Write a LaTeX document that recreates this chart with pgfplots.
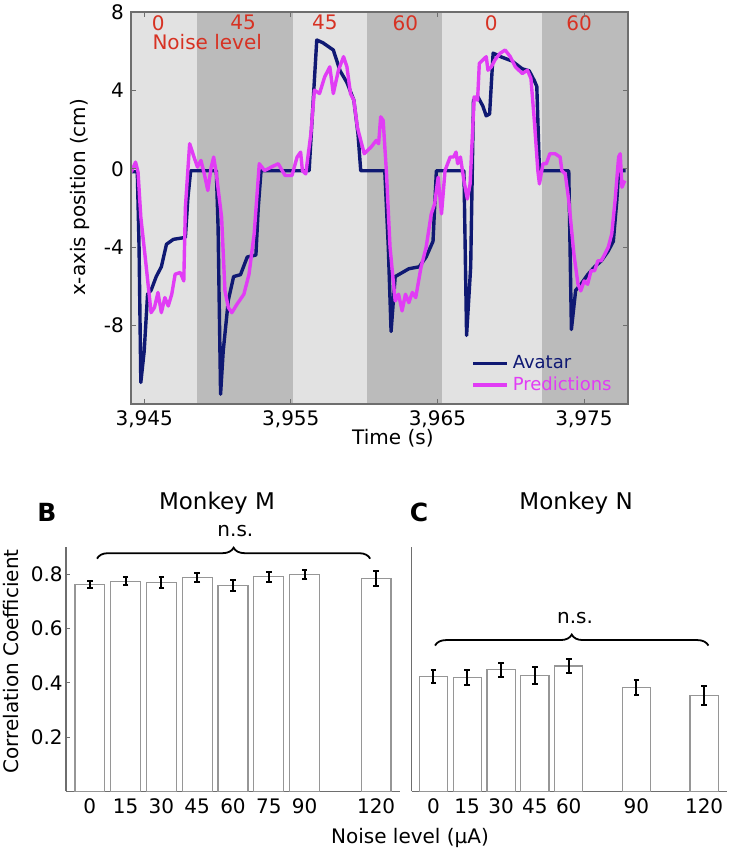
\documentclass[border=0pt]{standalone}
\usepackage{fontspec}
\setmainfont{DejaVu Sans}
\usepackage{pgfplots}
\pgfplotsset{compat=1.18}
\usetikzlibrary{decorations.pathreplacing}
\definecolor{bglight}{RGB}{226,226,226}
\definecolor{bgdark}{RGB}{187,187,187}
\definecolor{avatar}{RGB}{15,25,115}
\definecolor{pred}{RGB}{225,60,245}
\definecolor{noisered}{RGB}{215,50,35}
\definecolor{baredge}{RGB}{150,150,150}
\definecolor{axgray}{RGB}{110,110,110}
\newcommand{\fs}[1]{\fontsize{#1}{#1}\selectfont}
\begin{document}
\begin{tikzpicture}
\useasboundingbox (0,0) rectangle (365pt,426.5pt);
% ---------------- Panel A ----------------
\begin{axis}[
  at={(65.5pt,224.5pt)}, anchor=south west,
  scale only axis, width=248.5pt, height=196pt,
  xmin=3944.1, xmax=3978, ymin=-12, ymax=8,
  xtick={3945,3955,3965,3975},
  xticklabels={3{,}945,3{,}955,3{,}965,3{,}975},
  ytick={-8,-4,0,4,8},
  yticklabels={-8,-4,0,4,8},
  ticklabel style={font=\fs{10}},
  axis line style={axgray, line width=0.6pt},
  tick style={axgray, line width=0.5pt},
  major tick length=2.5pt,
  xlabel={Time (s)},
  ylabel={x-axis position (cm)},
  label style={font=\fs{10}},
  xlabel style={at={(axis description cs:0.527,-0.087)}, anchor=center},
  ylabel style={at={(axis description cs:-0.103,0.527)}, anchor=center},
  axis on top,
  legend style={draw=none, fill=none, at={(axis description cs:0.68,0.14)}, anchor=north west, font=\fs{9}, row sep=-1.5pt, inner sep=1pt},
  legend cell align=left,
  legend image code/.code={\draw[#1, line width=1.7pt] (0pt,0pt) -- (17pt,0pt);},
]
\addplot[draw=none, fill=bglight, forget plot] coordinates {(3944.1,-12) (3944.1,8) (3948.57,8) (3948.57,-12)};
\addplot[draw=none, fill=bgdark, forget plot] coordinates {(3948.57,-12) (3948.57,8) (3955.15,8) (3955.15,-12)};
\addplot[draw=none, fill=bglight, forget plot] coordinates {(3955.15,-12) (3955.15,8) (3960.21,8) (3960.21,-12)};
\addplot[draw=none, fill=bgdark, forget plot] coordinates {(3960.21,-12) (3960.21,8) (3965.28,8) (3965.28,-12)};
\addplot[draw=none, fill=bglight, forget plot] coordinates {(3965.28,-12) (3965.28,8) (3972.13,8) (3972.13,-12)};
\addplot[draw=none, fill=bgdark, forget plot] coordinates {(3972.13,-12) (3972.13,8) (3978,8) (3978,-12)};
\addplot[avatar, line width=1.7pt, line join=round] coordinates {
(3944.11,-0.15) (3944.53,-0.15) (3944.65,-4.0) (3944.77,-10.9) (3945.00,-9.3)
(3945.23,-6.4) (3945.47,-6.2) (3945.82,-5.5) (3946.17,-5.0) (3946.52,-3.85)
(3946.99,-3.6) (3947.81,-3.5) (3947.98,-1.5) (3948.17,-0.1) (3949.92,-0.1)
(3950.04,-3.0) (3950.21,-11.5) (3950.39,-9.3) (3950.74,-6.7) (3951.10,-5.5)
(3951.57,-5.4) (3952.03,-4.5) (3952.62,-4.4) (3952.78,-2.0) (3952.97,-0.1)
(3956.25,-0.1) (3956.49,3.0) (3956.77,6.57) (3957.19,6.43) (3957.90,6.06)
(3958.36,5.0) (3958.83,4.4) (3959.30,3.5) (3959.58,1.8) (3959.77,-0.1)
(3961.41,-0.1) (3961.65,-4.0) (3961.84,-8.3) (3962.12,-5.5) (3962.59,-5.3)
(3963.05,-5.1) (3963.76,-5.0) (3964.23,-4.5) (3964.70,-3.7) (3964.93,-0.1)
(3966.81,-0.1) (3966.99,-8.5) (3967.27,-5.0) (3967.46,3.5) (3967.74,3.7)
(3968.10,3.2) (3968.33,2.7) (3968.56,2.8) (3968.80,5.9) (3969.38,5.7)
(3970.09,5.5) (3970.79,5.1) (3971.26,5.0) (3971.61,4.5) (3971.78,4.2)
(3971.96,-0.1) (3973.96,-0.1) (3974.14,-8.2) (3974.43,-6.2) (3974.78,-5.9)
(3975.25,-5.4) (3975.72,-5.0) (3976.18,-4.7) (3976.65,-4.2) (3977.00,-3.7)
(3977.24,-1.6) (3977.36,-0.1) (3977.83,-0.1)
};
\addlegendentry{\textcolor{avatar}{Avatar}}
\addplot[pred, line width=1.7pt, line join=round] coordinates {
(3944.11,-0.17) (3944.41,0.34) (3944.58,-0.17) (3944.77,-2.47) (3945.12,-4.86)
(3945.47,-7.34) (3945.70,-7.08) (3945.94,-6.31) (3946.17,-7.34) (3946.41,-6.57)
(3946.64,-7.00) (3946.88,-6.40) (3947.11,-5.38) (3947.46,-5.29) (3947.70,-5.72)
(3947.81,-1.96) (3948.10,1.28) (3948.40,0.60) (3948.63,0.09) (3948.87,0.43)
(3949.10,-0.26) (3949.34,-1.11) (3949.57,0.09) (3949.74,0.60) (3949.92,-0.26)
(3950.28,-2.47) (3950.51,-6.23) (3950.74,-7.08) (3950.98,-7.34) (3951.33,-6.91)
(3951.80,-6.40) (3952.15,-5.38) (3952.50,-3.33) (3952.85,0.26) (3953.21,-0.09)
(3953.68,0.09) (3954.14,0.26) (3954.61,-0.34) (3955.08,-0.34) (3955.43,0.60)
(3955.67,0.85) (3955.79,-0.09) (3956.02,-0.26) (3956.37,1.79) (3956.61,4.01)
(3956.96,3.84) (3957.31,4.69) (3957.66,5.20) (3957.90,3.84) (3958.25,5.03)
(3958.60,5.72) (3958.83,5.20) (3959.07,3.84) (3959.30,3.50) (3959.54,2.13)
(3959.77,1.45) (3960.01,0.77) (3960.24,0.94) (3960.48,1.11) (3960.83,1.45)
(3960.99,1.28) (3961.13,2.65) (3961.30,2.47) (3961.53,-0.26) (3961.77,-4.01)
(3962.12,-6.74) (3962.35,-6.40) (3962.59,-7.25) (3962.82,-6.40) (3963.05,-6.83)
(3963.29,-6.31) (3963.52,-6.57) (3963.88,-5.03) (3964.23,-4.01) (3964.58,-2.30)
(3964.81,-1.79) (3965.05,-0.43) (3965.28,-2.30) (3965.52,-0.09) (3965.87,0.60)
(3966.10,0.60) (3966.27,0.85) (3966.38,0.26) (3966.57,0.60) (3966.81,-0.60)
(3967.04,-1.54) (3967.23,-0.77) (3967.51,3.67) (3967.74,3.50) (3967.86,5.38)
(3968.10,5.55) (3968.33,5.72) (3968.45,5.03) (3968.68,5.20) (3968.92,5.55)
(3969.27,5.89) (3969.62,6.06) (3969.97,5.72) (3970.32,5.20) (3970.79,4.86)
(3971.14,5.03) (3971.38,4.61) (3971.61,2.47) (3971.85,-0.09) (3971.96,-0.77)
(3972.20,0.26) (3972.43,0.26) (3972.67,0.77) (3973.02,0.77) (3973.37,0.60)
(3973.49,-0.09) (3973.72,-0.26) (3973.96,-1.62) (3974.31,-4.35) (3974.59,-5.89)
(3974.78,-6.23) (3975.01,-5.72) (3975.25,-5.89) (3975.48,-5.20) (3975.72,-5.20)
(3975.95,-4.69) (3976.18,-4.69) (3976.42,-4.35) (3976.65,-4.01) (3976.89,-3.33)
(3977.12,-1.62) (3977.36,0.60) (3977.47,0.77) (3977.59,-0.94) (3977.78,-0.60)
};
\addlegendentry{\textcolor{pred}{Predictions}}
\node[noisered, font=\fs{10}, inner sep=0pt] at (axis cs:3945.95,7.45) {0};
\node[noisered, font=\fs{10}, inner sep=0pt] at (axis cs:3951.74,7.45) {45};
\node[noisered, font=\fs{10}, inner sep=0pt] at (axis cs:3957.33,7.45) {45};
\node[noisered, font=\fs{10}, inner sep=0pt] at (axis cs:3962.82,7.45) {60};
\node[noisered, font=\fs{10}, inner sep=0pt] at (axis cs:3968.68,7.45) {0};
\node[noisered, font=\fs{10}, inner sep=0pt] at (axis cs:3974.66,7.45) {60};
\node[noisered, font=\fs{10}, anchor=west, inner sep=0pt] at (axis cs:3945.54,6.45) {Noise level};
\node[font=\bfseries\fs{12.5}] at (axis description cs:-0.170,0.975) {A};
\end{axis}
% ---------------- Panel B ----------------
\begin{axis}[
  at={(33pt,30.8pt)}, anchor=south west,
  scale only axis, width=167pt, height=122.2pt,
  xmin=-10, xmax=130, ymin=0, ymax=0.9,
  axis x line*=bottom, axis y line*=left,
  axis line style={axgray, line width=0.6pt},
  tick style={axgray, line width=0.5pt},
  major tick length=2pt,
  xtick={0,15,30,45,60,75,90,120},
  xticklabels={0,15,30,45,60,75,90,120},
  ytick={0.2,0.4,0.6,0.8},
  yticklabels={0.2,0.4,0.6,0.8},
  ticklabel style={font=\fs{10}},
  yticklabel style={inner sep=1.5pt},
  ylabel={Correlation Coefficient},
  xlabel={Noise level (μA)},
  label style={font=\fs{10}},
  ylabel style={at={(axis description cs:-0.165,0.532)}, anchor=center},
  xlabel style={at={(axis description cs:1.03,-0.19)}, anchor=center},
  clip=false,
]
\addplot[ybar, bar width=12.5, fill=white, draw=baredge, line width=0.6pt,
  error bars/.cd, y dir=both, y explicit,
  error bar style={black, line width=1pt},
  error mark options={black, line width=1pt, mark size=1.4pt, rotate=90}]
coordinates {
(0,0.763) +- (0,0.013)
(15,0.774) +- (0,0.014)
(30,0.770) +- (0,0.020)
(45,0.788) +- (0,0.016)
(60,0.759) +- (0,0.020)
(75,0.790) +- (0,0.019)
(90,0.799) +- (0,0.015)
(120,0.784) +- (0,0.027)
};
\draw[decorate, decoration={brace, amplitude=5.5pt}, line width=0.9pt] (axis cs:3,0.857) -- (axis cs:117.5,0.857);
\node[font=\fs{10}] at (axis cs:61,0.96) {n.s.};
\node[font=\fs{11.5}] at (axis description cs:0.452,1.178) {Monkey M};
\node[font=\bfseries\fs{12.5}] at (axis description cs:-0.057,1.141) {B};
\end{axis}
% ---------------- Panel C ----------------
\begin{axis}[
  at={(205.85pt,30.8pt)}, anchor=south west,
  scale only axis, width=157.5pt, height=122.2pt,
  xmin=-9.6, xmax=130, ymin=0, ymax=0.9,
  axis x line*=bottom, axis y line*=left,
  axis line style={axgray, line width=0.6pt},
  tick style={axgray, line width=0.5pt},
  major tick length=2pt,
  xtick={0,15,30,45,60,90,120},
  xticklabels={0,15,30,45,60,90,120},
  ytick=\empty,
  ticklabel style={font=\fs{10}},
  clip=false,
]
\addplot[ybar, bar width=12.5, fill=white, draw=baredge, line width=0.6pt,
  error bars/.cd, y dir=both, y explicit,
  error bar style={black, line width=1pt},
  error mark options={black, line width=1pt, mark size=1.4pt, rotate=90}]
coordinates {
(0,0.423) +- (0,0.023)
(15,0.419) +- (0,0.028)
(30,0.448) +- (0,0.026)
(45,0.427) +- (0,0.031)
(60,0.462) +- (0,0.025)
(90,0.383) +- (0,0.027)
(120,0.353) +- (0,0.034)
};
\draw[decorate, decoration={brace, amplitude=5.5pt}, line width=0.9pt] (axis cs:0.75,0.537) -- (axis cs:121.9,0.537);
\node[font=\fs{10}] at (axis cs:62.8,0.64) {n.s.};
\node[font=\fs{11.5}] at (axis description cs:0.522,1.178) {Monkey N};
\node[font=\bfseries\fs{12.5}] at (axis description cs:0.023,1.141) {C};
\end{axis}
\end{tikzpicture}
\end{document}
